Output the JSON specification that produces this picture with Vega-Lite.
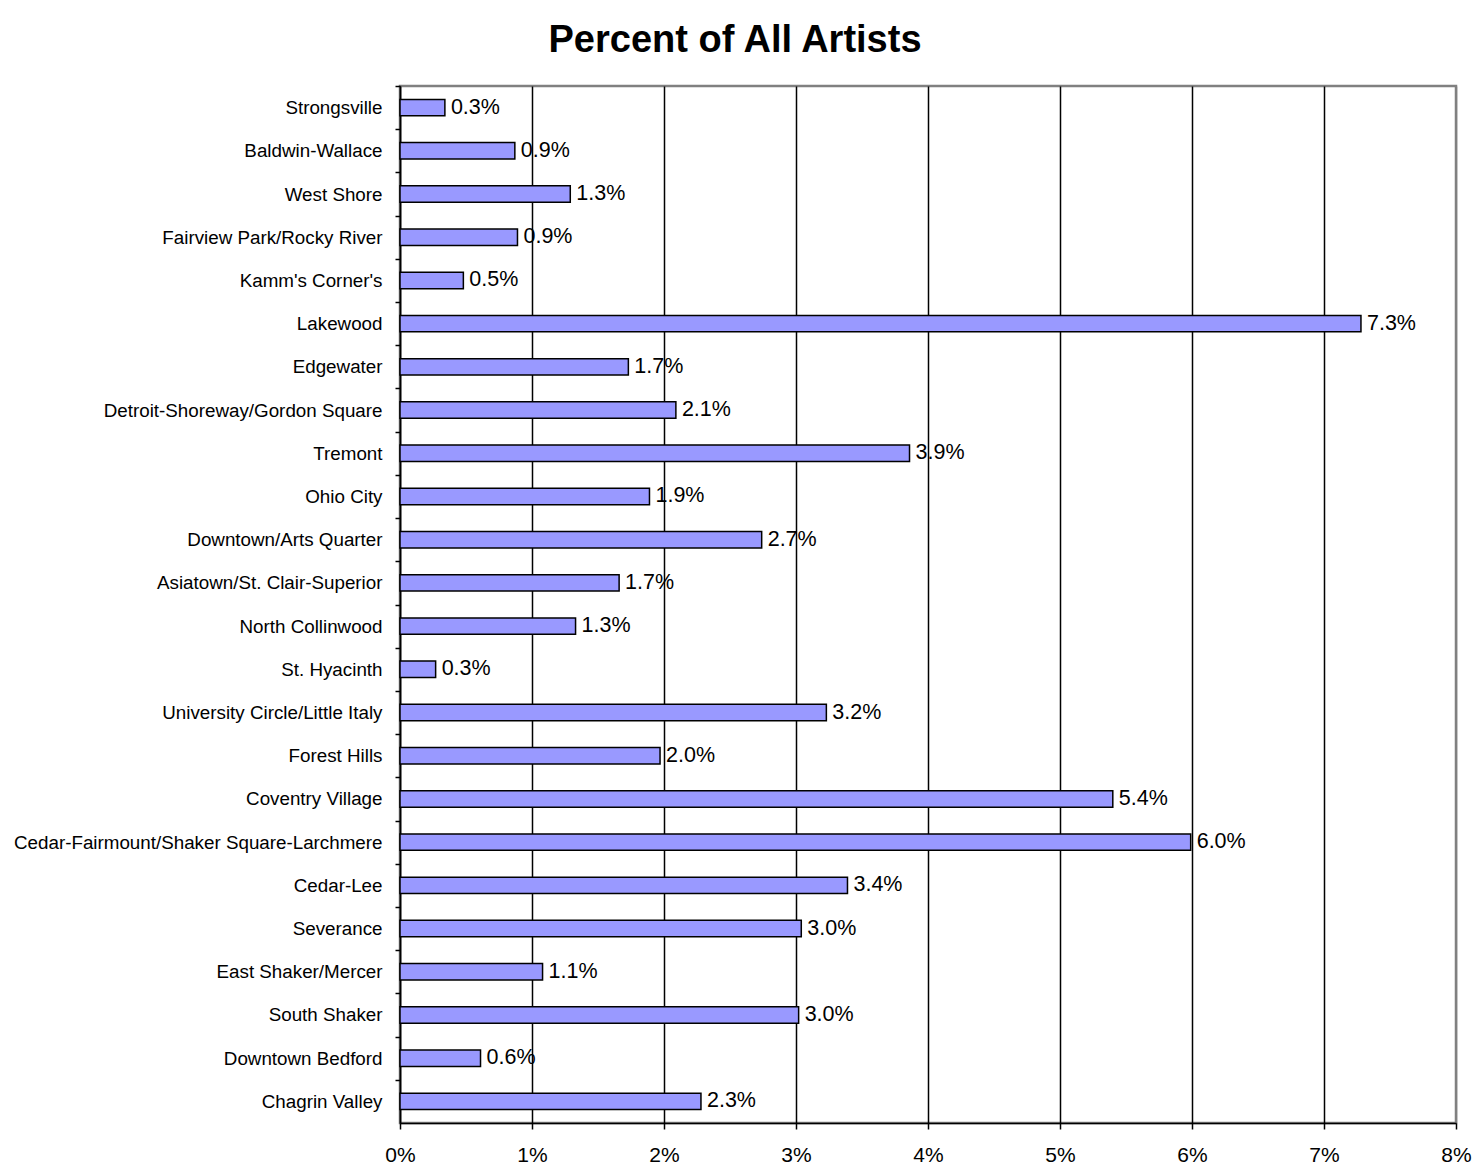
{
  "$schema": "https://vega.github.io/schema/vega-lite/v6.json",
  "width": 1056,
  "height": 1037,
  "autosize": {"type": "none"},
  "padding": {"left": 400, "top": 86, "right": 19, "bottom": 51},
  "background": "white",
  "title": {
    "text": "Percent of All Artists",
    "font": "Liberation Sans",
    "fontSize": 38,
    "fontWeight": "bold",
    "color": "black",
    "anchor": "middle",
    "baseline": "alphabetic",
    "offset": 34,
    "dy": 39,
    "dx": -193
  },
  "config": {
    "font": "Liberation Sans",
    "view": {"stroke": "#808080", "strokeWidth": 2.5}
  },
  "data": {
    "values": [
      {"area": "Strongsville", "value": 0.0034},
      {"area": "Baldwin-Wallace", "value": 0.0087},
      {"area": "West Shore", "value": 0.0129},
      {"area": "Fairview Park/Rocky River", "value": 0.0089},
      {"area": "Kamm's Corner's", "value": 0.0048},
      {"area": "Lakewood", "value": 0.0728},
      {"area": "Edgewater", "value": 0.0173},
      {"area": "Detroit-Shoreway/Gordon Square", "value": 0.0209},
      {"area": "Tremont", "value": 0.0386},
      {"area": "Ohio City", "value": 0.0189},
      {"area": "Downtown/Arts Quarter", "value": 0.0274},
      {"area": "Asiatown/St. Clair-Superior", "value": 0.0166},
      {"area": "North Collinwood", "value": 0.0133},
      {"area": "St. Hyacinth", "value": 0.0027},
      {"area": "University Circle/Little Italy", "value": 0.0323},
      {"area": "Forest Hills", "value": 0.0197},
      {"area": "Coventry Village", "value": 0.054},
      {"area": "Cedar-Fairmount/Shaker Square-Larchmere", "value": 0.0599},
      {"area": "Cedar-Lee", "value": 0.0339},
      {"area": "Severance", "value": 0.0304},
      {"area": "East Shaker/Mercer", "value": 0.0108},
      {"area": "South Shaker", "value": 0.0302},
      {"area": "Downtown Bedford", "value": 0.0061},
      {"area": "Chagrin Valley", "value": 0.0228}
    ]
  },
  "encoding": {
    "y": {
      "field": "area",
      "type": "nominal",
      "sort": null,
      "scale": {"paddingInner": 0.62, "paddingOuter": 0.31},
      "axis": {
        "title": null,
        "domainColor": "black",
        "domainWidth": 1.5,
        "tickColor": "black",
        "tickWidth": 1.5,
        "tickSize": 5,
        "tickOffset": -21.6,
        "labelOffset": 21.6,
        "labelPadding": 13,
        "labelFontSize": 18.8,
        "labelColor": "black",
        "labelLimit": 500,
        "grid": false
      }
    }
  },
  "layer": [
    {
      "mark": {"type": "bar", "color": "#9999FF", "stroke": "black", "strokeWidth": 1.5},
      "encoding": {
        "x": {
          "field": "value",
          "type": "quantitative",
          "scale": {"domain": [0, 0.08], "nice": false},
          "axis": {
            "title": null,
            "format": ".0%",
            "values": [0, 0.01, 0.02, 0.03, 0.04, 0.05, 0.06, 0.07, 0.08],
            "domainColor": "black",
            "domainWidth": 1.5,
            "tickColor": "black",
            "tickWidth": 1.5,
            "tickSize": 6,
            "labelPadding": 15,
            "labelFontSize": 21,
            "labelColor": "black",
            "labelFlush": false,
            "labelOverlap": false,
            "grid": true,
            "gridColor": {"condition": {"test": "datum.value >= 0.08", "value": "#808080"}, "value": "black"},
            "gridWidth": 1.5,
            "gridOpacity": 1
          }
        }
      }
    },
    {
      "mark": {"type": "text", "align": "left", "baseline": "middle", "dx": 6, "fontSize": 21.5, "color": "black"},
      "encoding": {
        "x": {"field": "value", "type": "quantitative"},
        "text": {"field": "value", "type": "quantitative", "format": ".1%"}
      }
    }
  ]
}
